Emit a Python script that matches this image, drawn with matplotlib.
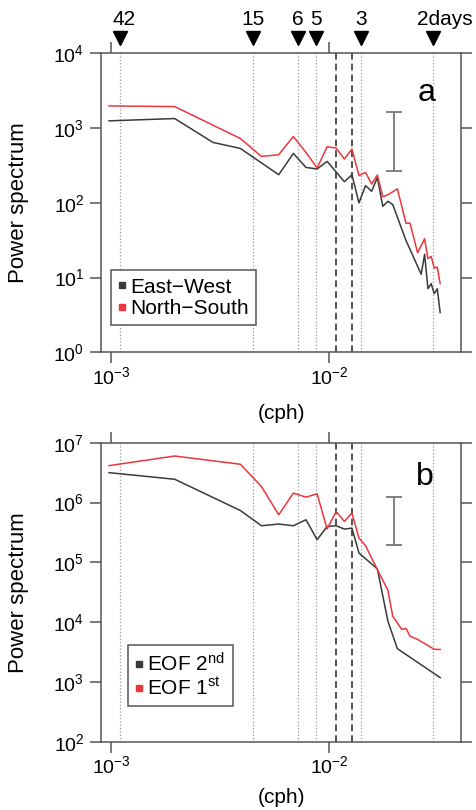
import numpy as np
import matplotlib
matplotlib.use('Agg')
import matplotlib.pyplot as plt
import matplotlib.transforms as mtransforms
from matplotlib.lines import Line2D
from matplotlib.ticker import NullLocator

plt.rcParams['font.family'] = ['Liberation Sans', 'DejaVu Sans']
plt.rcParams['mathtext.default'] = 'regular'

# Базова частота спектра (cph), точки спектра = k * f0
f0 = 0.00098

# Панель a: East-West / North-South
k_ew = [1, 2, 3, 4, 6, 7, 8, 9, 10, 12, 13, 14, 15, 16, 17, 18, 19, 20, 23, 27, 28, 29, 30, 31, 32, 33]
p_ew = [1251, 1343, 643, 535, 238, 459, 298, 284, 359, 192, 238, 100, 170, 143, 219, 90, 105, 95,
        31.4, 11.1, 20.5, 7.1, 8.3, 6.1, 7.1, 3.4]
k_ns = [1, 2, 4, 5, 6, 7, 8, 9, 10, 11, 12, 13, 14, 15, 16, 17, 18, 19, 21, 23, 24, 26, 28, 29, 30, 31, 32, 33]
p_ns = [1983, 1941, 727, 418, 441, 773, 473, 293, 563, 541, 386, 525, 231, 256, 179, 236, 121, 128, 154,
        53.5, 53.5, 21.5, 33.1, 17.9, 19.2, 13.4, 13.8, 8.3]

# Панель b: EOF 2nd / EOF 1st
k_eof2 = [1, 2, 4, 5, 6, 7, 8, 9, 10, 11, 12, 13, 14, 17, 19, 21, 33]
p_eof2 = [3.16e6, 2.45e6, 7.36e5, 4.09e5, 4.37e5, 4.09e5, 5.15e5, 2.39e5, 3.98e5, 4.09e5, 3.6e5, 3.74e5,
          1.43e5, 7.76e4, 1.04e4, 3.6e3, 1.18e3]
k_eof1 = [1, 2, 4, 5, 6, 7, 8, 9, 10, 11, 12, 13, 14, 15, 17, 19, 20, 22, 23, 24, 26, 31, 33]
p_eof1 = [4.14e6, 6.0e6, 4.37e6, 1.85e6, 6.24e5, 1.44e6, 1.23e6, 1.40e6, 3.6e5, 7.08e5, 4.82e5, 6.66e5,
          2.55e5, 1.9e5, 7.56e4, 3.41e4, 1.26e4, 7.56e3, 7.85e3, 5.84e3, 5.15e3, 3.51e3, 3.49e3]

# Періоди (дні) та допоміжні лінії
period_freq = [0.0011, 0.0045, 0.00723, 0.00872, 0.0140, 0.0301]
period_labels = ['42', '15', '6', '5', '3', '2days']
dashed_freq = [0.01073, 0.01271]

# Довірчі інтервали
err_freq = 0.0199
err_a = [270, 1660]
err_b = [1.97e5, 1.26e6]

RED = '#e8383d'
BLACK = '#3a3a3a'
SPINE = '#555555'


def style_axes(ax, ylim):
    # Оформлення осей
    ax.set_xscale('log')
    ax.set_yscale('log')
    ax.set_xlim(9.0e-4, 0.0403)
    ax.set_ylim(*ylim)
    ax.set_xticks([1e-3, 1e-2])
    ax.xaxis.set_minor_locator(NullLocator())
    ax.yaxis.set_minor_locator(NullLocator())
    ax.tick_params(axis='both', direction='out', length=8, width=1.1, color=SPINE,
                   top=True, right=True, labelsize=14)
    ax.tick_params(axis='y', pad=4)
    ax.tick_params(axis='x', pad=2)
    for s in ax.spines.values():
        s.set_color(SPINE)
        s.set_linewidth(1.1)
    for f in period_freq:
        ax.axvline(f, color='#999999', linestyle=':', linewidth=0.9, zorder=1)
    for f in dashed_freq:
        ax.axvline(f, color='#333333', linestyle=(0, (4, 2.5)), linewidth=1.2, zorder=1)
    ax.set_ylabel('Power spectrum', fontsize=16)
    ax.set_xlabel('(cph)', fontsize=15)
    ax.xaxis.label.set_va('bottom')
    ax.yaxis.set_label_coords(-0.2, 0.5)


def draw_errbar(ax, lo, hi):
    c = np.sqrt(lo * hi)
    ax.errorbar([err_freq], [c], yerr=[[c - lo], [hi - c]], color='#777777',
                capsize=6, elinewidth=1.3, capthick=1.3, zorder=3)


def legend_box(ax, labels, anchor):
    handles = [Line2D([], [], color=BLACK, marker='s', linestyle='none', markersize=4),
               Line2D([], [], color=RED, marker='s', linestyle='none', markersize=4)]
    leg = ax.legend(handles, labels, loc='lower left', bbox_to_anchor=anchor, borderaxespad=0,
                    fontsize=15, handlelength=0.4, handletextpad=0.2, labelspacing=0.1,
                    borderpad=0.35, fancybox=False, framealpha=1)
    leg.get_frame().set_edgecolor(SPINE)
    leg.get_frame().set_linewidth(1.1)


fig = plt.figure(figsize=(4.76, 8.10), dpi=100)
ax_a = fig.add_axes([0.2122, 0.565, 0.7563, 0.3691])
ax_b = fig.add_axes([0.2122, 0.0843, 0.7563, 0.3691])

# Панель a
style_axes(ax_a, (1, 1e4))
ax_a.plot(np.array(k_ew) * f0, p_ew, color=BLACK, linewidth=1.1, zorder=4)
ax_a.plot(np.array(k_ns) * f0, p_ns, color=RED, linewidth=1.1, zorder=4)
draw_errbar(ax_a, *err_a)
legend_box(ax_a, ['East\u2212West', 'North\u2212South'], (0.027, 0.091))
ax_a.text(0.905, 0.867, 'a', transform=ax_a.transAxes, fontsize=23, ha='center', va='center')
ax_a.xaxis.set_label_coords(0.5, -0.235)

# Трикутники з періодами над панеллю a
trans = mtransforms.blended_transform_factory(ax_a.transData, ax_a.transAxes)
ax_a.plot(period_freq, [1.053] * len(period_freq), linestyle='none', marker='v', color='black',
          markersize=10, transform=trans, clip_on=False)
for f, lab in zip(period_freq, period_labels):
    if lab == '2days':
        ax_a.annotate(lab, xy=(f, 1.0947), xycoords=trans, xytext=(-11.5, 0),
                      textcoords='offset points', ha='left', va='baseline', fontsize=15)
    elif lab == '42':
        ax_a.annotate(lab, xy=(f, 1.0947), xycoords=trans, xytext=(3, 0),
                      textcoords='offset points', ha='center', va='baseline', fontsize=15)
    else:
        ax_a.text(f, 1.0947, lab, transform=trans, ha='center', va='baseline', fontsize=15)

# Панель b
style_axes(ax_b, (1e2, 1e7))
ax_b.plot(np.array(k_eof2) * f0, p_eof2, color=BLACK, linewidth=1.1, zorder=4)
ax_b.plot(np.array(k_eof1) * f0, p_eof1, color=RED, linewidth=1.1, zorder=4)
draw_errbar(ax_b, *err_b)
legend_box(ax_b, ['EOF 2$^{nd}$', 'EOF 1$^{st}$'], (0.074, 0.119))
ax_b.text(0.9, 0.885, 'b', transform=ax_b.transAxes, fontsize=23, ha='center', va='center')
ax_b.xaxis.set_label_coords(0.5, -0.22)

fig.savefig('out.png', dpi=100)
